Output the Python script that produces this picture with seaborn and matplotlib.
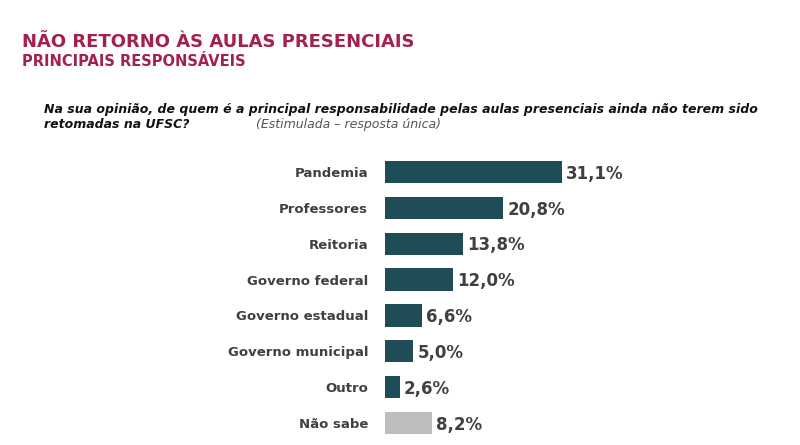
import matplotlib
matplotlib.use("Agg")
import matplotlib.pyplot as plt
import seaborn as sns
import pandas as pd

categories = ["Pandemia", "Professores", "Reitoria", "Governo federal",
              "Governo estadual", "Governo municipal", "Outro", "Não sabe"]
values = [31.1, 20.8, 13.8, 12.0, 6.6, 5.0, 2.6, 8.2]
labels = ["31,1%", "20,8%", "13,8%", "12,0%", "6,6%", "5,0%", "2,6%", "8,2%"]

df = pd.DataFrame({"cat": categories, "val": values})
colors = ["#1E4D58"] * 7 + ["#BDBDBD"]

fig = plt.figure(figsize=(8, 4.45), dpi=100)
ax = fig.add_axes([0.481, 0.009, 0.4275, 0.645])
sns.barplot(data=df, x="val", y="cat", hue="cat", palette=colors, legend=False,
            width=0.62, ax=ax, saturation=1)
ax.set_xlim(0, 60)
ax.set_ylim(7.5, -0.5)
for i, (v, t) in enumerate(zip(values, labels)):
    ax.text(v + 0.7, i + 0.05, t, va="center", ha="left", fontsize=12,
            fontweight="bold", color="#404040")
ax.set_xlabel("")
ax.set_ylabel("")
ax.set_xticks([])
ax.tick_params(axis="y", length=0, pad=12, labelsize=9.5, labelcolor="#404040")
for lab in ax.get_yticklabels():
    lab.set_fontweight("bold")
for s in ax.spines.values():
    s.set_visible(False)

fig.text(0.028, 0.895, "NÃO RETORNO ÀS AULAS PRESENCIAIS", fontsize=13,
         fontweight="bold", color="#A3214B")
fig.text(0.028, 0.852, "PRINCIPAIS RESPONSÁVEIS", fontsize=10.5,
         fontweight="bold", color="#A3214B")
fig.text(0.055, 0.745, "Na sua opinião, de quem é a principal responsabilidade pelas aulas presenciais ainda não terem sido",
         fontsize=9, fontweight="bold", fontstyle="italic", color="#111111")
fig.text(0.055, 0.712, "retomadas na UFSC?", fontsize=9, fontweight="bold",
         fontstyle="italic", color="#111111")
fig.text(0.32, 0.712, "(Estimulada – resposta única)", fontsize=9,
         fontstyle="italic", color="#555555")

fig.savefig("out.png", dpi=100)
